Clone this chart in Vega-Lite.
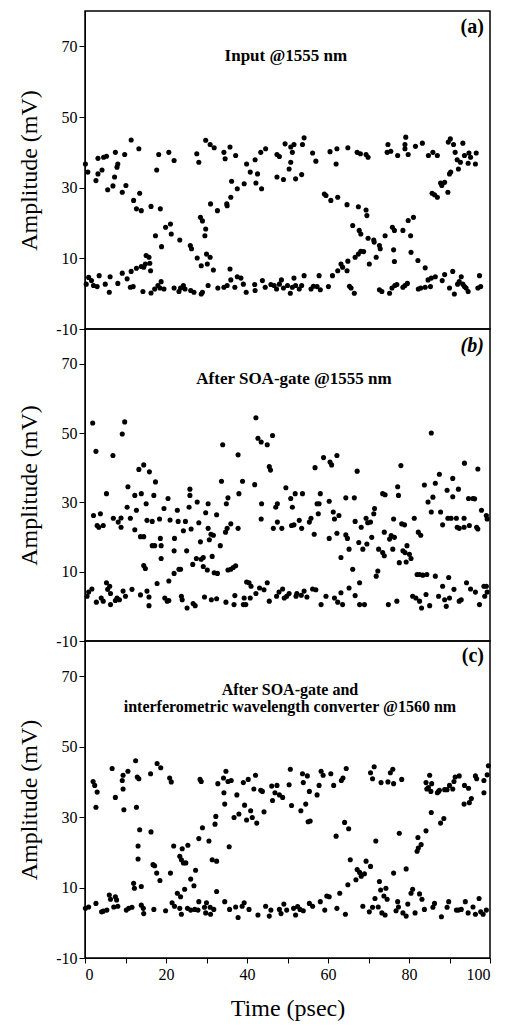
{
"$schema":"https://vega.github.io/schema/vega-lite/v6.json",
"padding":{"left":16,"top":10,"right":12,"bottom":5},
"spacing":0,
"bounds":"flush",
"config":{"view":{"stroke":"black","strokeWidth":1.5},"font":"Liberation Serif",
"axis":{"grid":false,"domainColor":"black","tickColor":"black","labelColor":"black","titleColor":"black","labelFont":"Liberation Serif","titleFont":"Liberation Serif","labelFontSize":16,"titleFontSize":24,"titleFontWeight":"normal"}},
"datasets":{
"a":[{"t":0.1,"v":36.7},{"t":0.7,"v":34.4},{"t":2.7,"v":32},{"t":3.2,"v":38.3},{"t":3.2,"v":33.9},{"t":4.2,"v":35},{"t":4.6,"v":38.6},{"t":5.6,"v":29.4},{"t":5.3,"v":38.9},{"t":6.9,"v":30.5},{"t":7.3,"v":33},{"t":7.5,"v":40},{"t":7.9,"v":35.8},{"t":8.1,"v":36.7},{"t":9.2,"v":28.7},{"t":9.8,"v":39.4},{"t":10.1,"v":30.6},{"t":11.4,"v":43.5},{"t":12,"v":26.4},{"t":12.7,"v":24},{"t":13.3,"v":41},{"t":13.5,"v":28.4},{"t":13.9,"v":23.5},{"t":16.3,"v":24.7},{"t":17.4,"v":16.4},{"t":17.7,"v":35},{"t":18.2,"v":39.4},{"t":18.6,"v":24},{"t":18.9,"v":13.3},{"t":19.9,"v":18.8},{"t":20.7,"v":40},{"t":21.1,"v":19.7},{"t":21.3,"v":16.9},{"t":22,"v":37.7},{"t":23.4,"v":15.2},{"t":26,"v":13.6},{"t":26.3,"v":12.7},{"t":27.6,"v":39.6},{"t":27.7,"v":10.1},{"t":28.1,"v":37.2},{"t":28.5,"v":21.6},{"t":28.7,"v":7.9},{"t":29,"v":20.6},{"t":29.6,"v":16.4},{"t":29.8,"v":18.3},{"t":30,"v":11.2},{"t":30.2,"v":8.4},{"t":30.9,"v":10.3},{"t":31,"v":25.4},{"t":31.7,"v":6.7},{"t":29.8,"v":43.4},{"t":30.9,"v":42.2},{"t":31.9,"v":41.3},{"t":32.7,"v":23.5},{"t":34.3,"v":40},{"t":34.6,"v":38.2},{"t":35,"v":25.4},{"t":35.1,"v":24.9},{"t":35.8,"v":41.5},{"t":36,"v":27.3},{"t":36.2,"v":31.8},{"t":37.2,"v":39.1},{"t":37.6,"v":29.7},{"t":39.3,"v":31.1},{"t":39.9,"v":36.7},{"t":40.8,"v":34.4},{"t":42,"v":37.9},{"t":42.2,"v":31.3},{"t":42.6,"v":33.9},{"t":43.6,"v":29.7},{"t":43.4,"v":40},{"t":44.6,"v":41},{"t":47.4,"v":39.4},{"t":48,"v":38.8},{"t":47.4,"v":33},{"t":49,"v":32.3},{"t":49.4,"v":42.4},{"t":50.4,"v":35.3},{"t":50.8,"v":37.2},{"t":51.2,"v":40},{"t":50.8,"v":41.5},{"t":51.6,"v":42.2},{"t":52,"v":32.5},{"t":53.5,"v":33.7},{"t":54.1,"v":44.1},{"t":53.7,"v":42.2},{"t":56.2,"v":39.8},{"t":57,"v":37.5},{"t":60.5,"v":40.2},{"t":62.2,"v":41},{"t":62,"v":36.7},{"t":59.1,"v":28.2},{"t":59.5,"v":27.8},{"t":60.7,"v":26.4},{"t":62.4,"v":27.3},{"t":64.9,"v":41.3},{"t":64.7,"v":25.2},{"t":67.2,"v":40},{"t":67.5,"v":24.6},{"t":68,"v":39.6},{"t":69.4,"v":39.4},{"t":69.9,"v":38.6},{"t":69.4,"v":23.7},{"t":69.6,"v":22.1},{"t":66.1,"v":19.3},{"t":67.7,"v":17.9},{"t":68.1,"v":16.9},{"t":69.9,"v":15.7},{"t":71.3,"v":15.2},{"t":71.4,"v":14.6},{"t":72.7,"v":13.6},{"t":72.9,"v":12.7},{"t":74.1,"v":16.4},{"t":75.9,"v":18.8},{"t":76.4,"v":17.9},{"t":76.2,"v":12.4},{"t":76.4,"v":9.1},{"t":78.5,"v":17.9},{"t":80.4,"v":16.4},{"t":79.8,"v":20.7},{"t":81.1,"v":21.6},{"t":80.5,"v":11.7},{"t":82.2,"v":9.4},{"t":84,"v":7.3},{"t":74.8,"v":42.2},{"t":74.6,"v":40},{"t":75.5,"v":40.3},{"t":77.2,"v":39.1},{"t":79,"v":41},{"t":79.2,"v":44.3},{"t":79,"v":42.2},{"t":79.8,"v":39.4},{"t":81.6,"v":41.7},{"t":83.3,"v":42.6},{"t":84.8,"v":39.1},{"t":85.9,"v":40},{"t":87,"v":39.1},{"t":85.7,"v":28.4},{"t":86.3,"v":28},{"t":87,"v":27.3},{"t":87.8,"v":31.3},{"t":88.1,"v":30.6},{"t":88.8,"v":31.5},{"t":89.6,"v":28.7},{"t":90,"v":33.9},{"t":90.3,"v":34.4},{"t":89.7,"v":42.9},{"t":90.2,"v":43.8},{"t":91,"v":42.2},{"t":91.4,"v":40},{"t":91.9,"v":37.9},{"t":92.2,"v":35.3},{"t":93.3,"v":42.6},{"t":92.7,"v":37.2},{"t":93.7,"v":39.1},{"t":94.6,"v":36.9},{"t":95.2,"v":38.6},{"t":96.4,"v":36.7},{"t":96.6,"v":39.8},{"t":94.8,"v":39.8},
{"t":0.3,"v":2.7},{"t":0.9,"v":4.6},{"t":1.6,"v":3.7},{"t":2.1,"v":2.3},{"t":3,"v":2},{"t":3.5,"v":5.1},{"t":5,"v":2.7},{"t":6,"v":0.4},{"t":6.2,"v":4.8},{"t":8.1,"v":2.9},{"t":9.2,"v":5.8},{"t":10.4,"v":4.2},{"t":11.2,"v":1.8},{"t":11.9,"v":2},{"t":11.4,"v":6.3},{"t":12.7,"v":7.2},{"t":13.9,"v":7.7},{"t":14.5,"v":7.5},{"t":14.9,"v":8.4},{"t":16,"v":8.6},{"t":16.2,"v":6.5},{"t":15.1,"v":10.8},{"t":15.8,"v":10.3},{"t":14.3,"v":0.6},{"t":16.3,"v":0.2},{"t":17.2,"v":1.3},{"t":18,"v":2.3},{"t":18.8,"v":3.4},{"t":19.5,"v":1.3},{"t":18.5,"v":1.6},{"t":22,"v":1.6},{"t":23.2,"v":0.6},{"t":23.6,"v":1.6},{"t":24.3,"v":2.3},{"t":24.7,"v":1.3},{"t":26.1,"v":0.9},{"t":26.9,"v":0.4},{"t":28.7,"v":-0.1},{"t":29,"v":0.4},{"t":30.4,"v":2.3},{"t":32.8,"v":1.6},{"t":34.3,"v":1.8},{"t":35.1,"v":2.3},{"t":35.8,"v":7},{"t":36,"v":3.9},{"t":37,"v":1.8},{"t":37.6,"v":4.8},{"t":38.5,"v":4.4},{"t":39.1,"v":2.7},{"t":39.8,"v":0.4},{"t":41.9,"v":2.6},{"t":42,"v":0.9},{"t":43.8,"v":3.7},{"t":44.5,"v":1.8},{"t":45.9,"v":2.6},{"t":46.7,"v":2.3},{"t":47.3,"v":1.3},{"t":48,"v":2.7},{"t":48.5,"v":3.9},{"t":49,"v":1.6},{"t":50,"v":2.3},{"t":50.7,"v":0.1},{"t":51.2,"v":1.8},{"t":51.6,"v":4.4},{"t":52,"v":2.3},{"t":52.9,"v":1.3},{"t":53.5,"v":2.3},{"t":54.1,"v":5.1},{"t":55.8,"v":1.3},{"t":56.4,"v":2.1},{"t":57.3,"v":2},{"t":57.8,"v":5.1},{"t":58.1,"v":1.1},{"t":60.1,"v":2},{"t":61.1,"v":5.1},{"t":62.4,"v":6.5},{"t":63.2,"v":8.4},{"t":63.6,"v":7.5},{"t":64.7,"v":6.5},{"t":64.9,"v":9.2},{"t":65.3,"v":2.1},{"t":65.7,"v":1.6},{"t":66.5,"v":0.1},{"t":66.7,"v":10.3},{"t":67.5,"v":11.2},{"t":68.1,"v":12},{"t":68.8,"v":11.9},{"t":70.2,"v":8.4},{"t":71.9,"v":10.3},{"t":72.7,"v":1.1},{"t":73.3,"v":0.6},{"t":75.2,"v":0.1},{"t":75.8,"v":1.6},{"t":76.5,"v":2.3},{"t":77,"v":2.6},{"t":78.5,"v":1.8},{"t":79,"v":2.3},{"t":79.6,"v":2.9},{"t":82.3,"v":1.3},{"t":82.9,"v":1.6},{"t":84,"v":1.8},{"t":84.7,"v":3.9},{"t":85.3,"v":2},{"t":85.5,"v":4.4},{"t":86.5,"v":4.8},{"t":88.2,"v":3.7},{"t":88.8,"v":5.4},{"t":90,"v":1.6},{"t":90.8,"v":6.3},{"t":91.2,"v":-0.1},{"t":92,"v":2.7},{"t":92.4,"v":3.4},{"t":92.9,"v":4.8},{"t":93.3,"v":2.7},{"t":93.7,"v":2},{"t":94.1,"v":1.6},{"t":94.6,"v":0.6},{"t":97,"v":1.6},{"t":97.4,"v":5.1},{"t":97.7,"v":2}],
"b":[{"t":1.9,"v":52.9},{"t":2.7,"v":44.7},{"t":0.5,"v":2.9},{"t":0.9,"v":4.1},{"t":1.7,"v":5},{"t":2.1,"v":26.2},{"t":2.8,"v":1.2},{"t":3,"v":23.3},{"t":3.4,"v":22.8},{"t":3.8,"v":26.7},{"t":4,"v":2.4},{"t":4.5,"v":23.3},{"t":4.5,"v":1.5},{"t":5.3,"v":32.5},{"t":5.3,"v":6.8},{"t":5.6,"v":4.9},{"t":6.1,"v":5.8},{"t":6.3,"v":3.7},{"t":6.3,"v":0.5},{"t":6.9,"v":43.5},{"t":7,"v":25.4},{"t":7.5,"v":1.7},{"t":7.9,"v":2.4},{"t":8.2,"v":24.3},{"t":8.5,"v":1.9},{"t":8.9,"v":25.5},{"t":8.9,"v":22.8},{"t":9.2,"v":49.7},{"t":9.4,"v":4.4},{"t":9.8,"v":53.2},{"t":10,"v":2.9},{"t":10.4,"v":28.6},{"t":10.6,"v":34.5},{"t":11.2,"v":25.4},{"t":11.6,"v":4.9},{"t":12.3,"v":32},{"t":12.7,"v":27.7},{"t":12.3,"v":22.1},{"t":13.3,"v":39.5},{"t":13.7,"v":20.1},{"t":13.9,"v":32.5},{"t":14.5,"v":40.8},{"t":14.5,"v":20.1},{"t":14.5,"v":11.8},{"t":14.9,"v":10.9},{"t":15.1,"v":29.6},{"t":15.3,"v":24.8},{"t":13.7,"v":3.3},{"t":15.3,"v":4.4},{"t":15.8,"v":2.7},{"t":15.8,"v":0.2},{"t":15.9,"v":38.8},{"t":16.6,"v":24.5},{"t":17,"v":32},{"t":16.6,"v":17.5},{"t":17.2,"v":17.5},{"t":17.4,"v":35.9},{"t":17.8,"v":6.6},{"t":18.4,"v":25.2},{"t":18.6,"v":19.6},{"t":18.8,"v":17.5},{"t":18.8,"v":13.8},{"t":19.5,"v":28.2},{"t":19.7,"v":2.4},{"t":20.3,"v":1.5},{"t":20.5,"v":31.1},{"t":20.7,"v":1.7},{"t":20.7,"v":7.3},{"t":21,"v":24.9},{"t":22,"v":9.5},{"t":22.1,"v":19.6},{"t":22,"v":16},{"t":22.8,"v":27.7},{"t":23,"v":24.5},{"t":23.2,"v":10.7},{"t":23.6,"v":10.7},{"t":23.8,"v":2.9},{"t":24,"v":1.9},{"t":24.3,"v":21.8},{"t":24.8,"v":24.5},{"t":25.1,"v":16},{"t":25.2,"v":-0.5},{"t":25.7,"v":28.6},{"t":25.9,"v":33.8},{"t":25.9,"v":32},{"t":26.2,"v":22.3},{"t":26.6,"v":12.1},{"t":26.7,"v":0.8},{"t":27.2,"v":0.2},{"t":27.5,"v":13.8},{"t":27.7,"v":30.1},{"t":28.1,"v":24.1},{"t":28.5,"v":18.6},{"t":28.7,"v":13.6},{"t":29.2,"v":14.1},{"t":29.2,"v":11.5},{"t":29.5,"v":2.7},{"t":29.8,"v":27},{"t":30.2,"v":10.5},{"t":30.4,"v":29.6},{"t":30.4,"v":22.5},{"t":30.7,"v":19.2},{"t":31.1,"v":20.8},{"t":31.2,"v":1.9},{"t":31.4,"v":14.4},{"t":31.7,"v":20.5},{"t":31.9,"v":9.7},{"t":32.5,"v":2.2},{"t":32.5,"v":26.4},{"t":32.7,"v":9.5},{"t":33.4,"v":17.5},{"t":33.7,"v":36.1},{"t":34,"v":46.6},{"t":34.7,"v":21.4},{"t":34.9,"v":29.6},{"t":34.8,"v":1.2},{"t":35.1,"v":22.5},{"t":35.3,"v":10.5},{"t":35.3,"v":31.3},{"t":36,"v":23.8},{"t":36,"v":10.7},{"t":36.6,"v":11.2},{"t":36.8,"v":0.5},{"t":37,"v":3.1},{"t":37.2,"v":11.7},{"t":37.8,"v":43.7},{"t":38,"v":32.5},{"t":37.8,"v":22.5},{"t":38.9,"v":36.1},{"t":39.1,"v":0.5},{"t":39.3,"v":2.4},{"t":39.7,"v":0.5},{"t":39.9,"v":7},{"t":40.5,"v":6.8},{"t":40.8,"v":2.4},{"t":41,"v":5.8},{"t":41.9,"v":35.1},{"t":42.2,"v":54.4},{"t":42.2,"v":3.7},{"t":42.7,"v":48.5},{"t":43.1,"v":5.3},{"t":43.5,"v":47.4},{"t":43.6,"v":29.6},{"t":43.5,"v":25.2},{"t":44.2,"v":4.8},{"t":45,"v":46.6},{"t":45,"v":6.8},{"t":45.5,"v":1.5},{"t":45.5,"v":40.3},{"t":45.8,"v":39.3},{"t":46.3,"v":49.3},{"t":46.5,"v":22.5},{"t":47.1,"v":28.6},{"t":47.3,"v":2.9},{"t":47.5,"v":29.6},{"t":47.5,"v":24.3},{"t":47.9,"v":4.1},{"t":48.6,"v":22.5},{"t":48.8,"v":5},{"t":49.2,"v":2.4},{"t":49.6,"v":34.2},{"t":49.8,"v":2.9},{"t":50.4,"v":3.7},{"t":50.8,"v":31.1},{"t":51,"v":23.3},{"t":51.2,"v":28.6},{"t":51.6,"v":23.5},{"t":51.9,"v":32.5},{"t":52.1,"v":2.9},{"t":52.3,"v":3.7},{"t":52.9,"v":24.8},{"t":53.5,"v":22.5},{"t":53.7,"v":32.5},{"t":53.4,"v":3.2},{"t":54.1,"v":4.4},{"t":54.8,"v":2.7},{"t":55.4,"v":24.3},{"t":55.8,"v":25.4},{"t":56.2,"v":5},{"t":56.6,"v":20.8},{"t":56.8,"v":40},{"t":57,"v":4.8},{"t":57.3,"v":29.6},{"t":57.6,"v":26.7},{"t":57.8,"v":29.6},{"t":58.1,"v":32.5},{"t":58.3,"v":0.5},{"t":58.9,"v":42.9},{"t":59.5,"v":2.9},{"t":60.3,"v":30.3},{"t":60.3,"v":19.6},{"t":60.5,"v":41.6},{"t":60.9,"v":40.8},{"t":61.3,"v":27.2},{"t":61.6,"v":25.2},{"t":62.2,"v":43.5},{"t":62.2,"v":21.1},{"t":62.7,"v":26.2},{"t":61.6,"v":2.4},{"t":62.4,"v":1.2},{"t":63.2,"v":3.9},{"t":63.6,"v":0.5},{"t":63.2,"v":14.1},{"t":64.4,"v":31.3},{"t":64.4,"v":20.6},{"t":64.8,"v":19.6},{"t":65.2,"v":16.5},{"t":65.2,"v":5.3},{"t":66.1,"v":10.7},{"t":66.5,"v":31.3},{"t":66.7,"v":24.5},{"t":66.7,"v":3.1},{"t":67.2,"v":39},{"t":67.6,"v":18.4},{"t":67.8,"v":6.8},{"t":67.8,"v":0.5},{"t":68.2,"v":22.8},{"t":68.6,"v":16.5},{"t":69,"v":0.5},{"t":69.4,"v":25.4},{"t":69.6,"v":18},{"t":69.8,"v":24.1},{"t":70.5,"v":24.3},{"t":70.8,"v":19.9},{"t":71.3,"v":26.7},{"t":71.5,"v":28.2},{"t":71.9,"v":8.7},{"t":72.3,"v":10.2},{"t":72.5,"v":16.5},{"t":73.5,"v":32.5},{"t":73.5,"v":15.5},{"t":73.9,"v":14.6},{"t":74.1,"v":32.2},{"t":73.9,"v":21.4},{"t":74.9,"v":0.5},{"t":75.2,"v":19.4},{"t":75.6,"v":20.4},{"t":76,"v":16.5},{"t":76.2,"v":25.2},{"t":76.4,"v":19.9},{"t":77,"v":1.5},{"t":77.2,"v":34.5},{"t":77.4,"v":32},{"t":77.6,"v":12.6},{"t":78,"v":40.6},{"t":78.2,"v":23.8},{"t":78.5,"v":16},{"t":78.9,"v":23.5},{"t":79,"v":15.5},{"t":79.3,"v":12.8},{"t":79.5,"v":17.5},{"t":80.1,"v":15},{"t":80.5,"v":13.8},{"t":80.9,"v":2.9},{"t":81.3,"v":25.4},{"t":81.7,"v":2.4},{"t":82,"v":9.2},{"t":82.3,"v":21.4},{"t":82.6,"v":1.5},{"t":82.9,"v":20.5},{"t":82.6,"v":9.2},{"t":83.4,"v":9},{"t":83.1,"v":-0.5},{"t":83.8,"v":35},{"t":84.2,"v":3.4},{"t":84.4,"v":9.2},{"t":84.7,"v":30.1},{"t":85.1,"v":0.2},{"t":85.5,"v":50},{"t":85.5,"v":27.2},{"t":85.9,"v":31.5},{"t":86.5,"v":8.7},{"t":86.5,"v":35.5},{"t":87.3,"v":2.9},{"t":87.5,"v":38.1},{"t":87.8,"v":27.2},{"t":88.3,"v":23.5},{"t":88.3,"v":5.8},{"t":88.8,"v":1.9},{"t":89.2,"v":0},{"t":89.4,"v":33.5},{"t":89.6,"v":25.4},{"t":89.8,"v":8.3},{"t":90,"v":2.4},{"t":90.4,"v":25.4},{"t":90.8,"v":36.9},{"t":90.8,"v":31.6},{"t":91.1,"v":4.9},{"t":91.7,"v":25.4},{"t":91.9,"v":22.8},{"t":92.2,"v":33.8},{"t":92.4,"v":22.5},{"t":92.4,"v":1.5},{"t":92.9,"v":1.9},{"t":93.6,"v":25.4},{"t":93.6,"v":22.8},{"t":93.7,"v":41.3},{"t":94.2,"v":6.8},{"t":94.7,"v":31.1},{"t":94.9,"v":23.3},{"t":95.2,"v":5},{"t":95.8,"v":31.1},{"t":96.2,"v":31},{"t":96.4,"v":4.1},{"t":96.7,"v":22.8},{"t":97,"v":39.6},{"t":97,"v":22.3},{"t":97.4,"v":0.5},{"t":97.9,"v":27.7},{"t":98.5,"v":5.8},{"t":98.7,"v":2.9},{"t":99.1,"v":26.2},{"t":99.3,"v":25.2},{"t":99.1,"v":5.8},{"t":99.3,"v":4.1}],
"c":[{"t":0.1,"v":4.1},{"t":0.9,"v":4.5},{"t":2,"v":40.1},{"t":2.4,"v":39},{"t":3,"v":37.1},{"t":2.7,"v":32.8},{"t":2.7,"v":5.5},{"t":4.1,"v":3.1},{"t":4.5,"v":3.3},{"t":5.4,"v":3.6},{"t":6,"v":7.9},{"t":6.3,"v":6.7},{"t":6.7,"v":43.8},{"t":7.1,"v":4.5},{"t":7.5,"v":35.6},{"t":7.5,"v":7.4},{"t":7.8,"v":6.5},{"t":8.1,"v":4.7},{"t":9.2,"v":40.4},{"t":9.4,"v":41.9},{"t":9.4,"v":38},{"t":9.6,"v":32.1},{"t":10.2,"v":3.6},{"t":10.6,"v":43},{"t":10.8,"v":4.1},{"t":11.6,"v":4.4},{"t":12,"v":11.2},{"t":12.2,"v":9.8},{"t":12.5,"v":46},{"t":12.7,"v":32.8},{"t":12.9,"v":41.4},{"t":13.1,"v":21.8},{"t":13.3,"v":40.9},{"t":13.1,"v":18.1},{"t":13.5,"v":26.4},{"t":13.9,"v":10.3},{"t":13.9,"v":5},{"t":14.4,"v":4.1},{"t":14.5,"v":2.6},{"t":16.2,"v":42.3},{"t":16.3,"v":25.8},{"t":16.8,"v":16.5},{"t":17.2,"v":16.2},{"t":17.7,"v":14.1},{"t":17,"v":3.8},{"t":17.8,"v":45.2},{"t":18.5,"v":12},{"t":18.7,"v":44},{"t":19.9,"v":3.4},{"t":21.1,"v":14.1},{"t":20.9,"v":41.1},{"t":21.3,"v":40},{"t":21.5,"v":5.7},{"t":21.9,"v":21.8},{"t":22.1,"v":4.7},{"t":22.8,"v":8.4},{"t":23.4,"v":4.1},{"t":23.4,"v":18.9},{"t":23.6,"v":7.4},{"t":23.8,"v":2.4},{"t":23.8,"v":17.9},{"t":24,"v":21},{"t":24.3,"v":17},{"t":24.6,"v":9.5},{"t":24.9,"v":17},{"t":25.3,"v":4.1},{"t":25.4,"v":22},{"t":26.1,"v":3.6},{"t":26.1,"v":12.4},{"t":26.9,"v":10.5},{"t":27.1,"v":3.8},{"t":27.3,"v":14.9},{"t":27.9,"v":3.6},{"t":28.1,"v":23.9},{"t":28.1,"v":6},{"t":28.4,"v":40.7},{"t":28.7,"v":40.1},{"t":29,"v":27},{"t":29.5,"v":4.4},{"t":29.8,"v":2.8},{"t":30,"v":5.7},{"t":30.6,"v":23.2},{"t":30.9,"v":4.4},{"t":31,"v":2.4},{"t":31.4,"v":17.9},{"t":31.8,"v":3.8},{"t":32.1,"v":28},{"t":32.3,"v":30.2},{"t":32.5,"v":17.5},{"t":32.5,"v":8.9},{"t":32.8,"v":39.5},{"t":34.2,"v":41.1},{"t":34.3,"v":36.9},{"t":34.5,"v":33.7},{"t":34.5,"v":6},{"t":34.8,"v":43},{"t":35.3,"v":40.1},{"t":35.6,"v":21.6},{"t":35.7,"v":3.8},{"t":36.1,"v":40.4},{"t":36.8,"v":29.9},{"t":37.2,"v":4.5},{"t":37.5,"v":36.3},{"t":37.8,"v":1.5},{"t":38,"v":30.9},{"t":38.8,"v":4.7},{"t":39.1,"v":39.8},{"t":39.3,"v":5.7},{"t":39.4,"v":33.4},{"t":39.9,"v":29.2},{"t":40.3,"v":40.7},{"t":40.5,"v":3.8},{"t":40.9,"v":31.8},{"t":41.3,"v":29.9},{"t":41.7,"v":38},{"t":42.1,"v":41.9},{"t":42.4,"v":28.3},{"t":42.7,"v":2.2},{"t":43.4,"v":37.6},{"t":43.8,"v":37.3},{"t":44.2,"v":31.5},{"t":44.6,"v":4.7},{"t":45.5,"v":1.9},{"t":45.9,"v":3.6},{"t":46.1,"v":38.8},{"t":46.3,"v":34.7},{"t":46.9,"v":36.9},{"t":47.4,"v":39},{"t":48,"v":36.3},{"t":48.8,"v":35.6},{"t":48,"v":3.8},{"t":48.4,"v":2.6},{"t":49.1,"v":5.3},{"t":49.8,"v":3.6},{"t":50.4,"v":39.2},{"t":50.7,"v":43.6},{"t":51,"v":33.3},{"t":51.5,"v":4.1},{"t":52,"v":2.2},{"t":52.5,"v":4.6},{"t":53.1,"v":3.8},{"t":53.3,"v":31.8},{"t":53.7,"v":42.3},{"t":53.9,"v":39.8},{"t":53.9,"v":3.4},{"t":54.5,"v":33.7},{"t":54.9,"v":41.7},{"t":55.1,"v":28.7},{"t":55.4,"v":37.3},{"t":55.6,"v":28.9},{"t":55.4,"v":5.5},{"t":56.2,"v":4.7},{"t":57.3,"v":36.3},{"t":57.8,"v":39},{"t":58.3,"v":43},{"t":58.1,"v":6},{"t":58.8,"v":41.9},{"t":59.2,"v":3.6},{"t":59.7,"v":7.6},{"t":60.3,"v":7.4},{"t":60.7,"v":42.3},{"t":61.4,"v":39},{"t":62,"v":24.6},{"t":62.2,"v":4.1},{"t":62.9,"v":8.4},{"t":63.3,"v":40.4},{"t":63.7,"v":41.1},{"t":64.1,"v":28.5},{"t":64.3,"v":2.4},{"t":64.5,"v":43.8},{"t":65.1,"v":26.7},{"t":64.9,"v":10.8},{"t":65.5,"v":17.9},{"t":66.9,"v":12.2},{"t":67.2,"v":15.1},{"t":67.8,"v":14.3},{"t":68.2,"v":13.2},{"t":68.6,"v":4.7},{"t":69,"v":13.9},{"t":69.4,"v":17.5},{"t":70.2,"v":3.1},{"t":70.5,"v":16},{"t":71,"v":4.4},{"t":70.5,"v":42.6},{"t":71,"v":40.9},{"t":71.4,"v":44.3},{"t":71.6,"v":6.9},{"t":71.8,"v":23.2},{"t":72.4,"v":4.5},{"t":72.7,"v":11.7},{"t":73,"v":9.3},{"t":73.1,"v":39.8},{"t":73.3,"v":2.8},{"t":73.8,"v":7.6},{"t":74.1,"v":2.2},{"t":74.3,"v":9.8},{"t":74.6,"v":6.7},{"t":74.8,"v":40},{"t":75.4,"v":42.6},{"t":76,"v":43.6},{"t":76.2,"v":39.5},{"t":76.2,"v":14.1},{"t":76.8,"v":3.4},{"t":77.2,"v":6},{"t":77.4,"v":4.5},{"t":77.6,"v":25.4},{"t":78.2,"v":40.7},{"t":78.5,"v":2.8},{"t":79.3,"v":15.3},{"t":79.3,"v":1.9},{"t":79.7,"v":5.3},{"t":80.5,"v":8.4},{"t":80.9,"v":9.5},{"t":81.5,"v":2.8},{"t":82,"v":20.3},{"t":82.2,"v":24.2},{"t":82.3,"v":21.2},{"t":82.6,"v":8.2},{"t":83,"v":22.2},{"t":83.2,"v":6.7},{"t":83.8,"v":3.8},{"t":84.2,"v":26.1},{"t":84.2,"v":39.8},{"t":84.4,"v":38},{"t":84.8,"v":38.4},{"t":85.1,"v":41.9},{"t":85.4,"v":37.3},{"t":85.5,"v":31.3},{"t":85.6,"v":39.5},{"t":85.9,"v":4.4},{"t":86.3,"v":5.5},{"t":87,"v":36.9},{"t":87.3,"v":37.3},{"t":87.5,"v":37.6},{"t":87.8,"v":28.3},{"t":88,"v":1.7},{"t":88.6,"v":29.6},{"t":88.8,"v":37.8},{"t":89.4,"v":37.8},{"t":89.4,"v":4.4},{"t":89.8,"v":6},{"t":90,"v":39},{"t":90.8,"v":38},{"t":91.1,"v":40.1},{"t":91.4,"v":41.4},{"t":91.7,"v":3.6},{"t":92.2,"v":3.6},{"t":92.4,"v":41.7},{"t":92.9,"v":3.8},{"t":93.6,"v":33.7},{"t":93.7,"v":39},{"t":93.9,"v":6},{"t":94.6,"v":2.8},{"t":94.7,"v":38.2},{"t":94.9,"v":34.1},{"t":95.4,"v":35.3},{"t":95.8,"v":4.5},{"t":96.4,"v":41.7},{"t":96.4,"v":2.4},{"t":96.7,"v":40.9},{"t":97.3,"v":6.9},{"t":97.7,"v":3.1},{"t":98.3,"v":2.4},{"t":98.5,"v":40.4},{"t":98.5,"v":36.9},{"t":99.1,"v":3.6},{"t":99.3,"v":42},{"t":99.6,"v":44.6}]
},
"vconcat":[
{"width":405,"height":318,"layer":[
 {"data":{"name":"a"},"mark":{"type":"circle","size":26,"color":"black","opacity":1},
  "encoding":{"x":{"field":"t","type":"quantitative","scale":{"domain":[0,100],"nice":false},"axis":null},
   "y":{"field":"v","type":"quantitative","scale":{"domain":[-10,80],"nice":false,"zero":false},"axis":{"title":"Amplitude (mV)","values":[-10,0,10,20,30,40,50,60,70],"labelExpr":"datum.value == -10 ? '-10' : (datum.value % 20 == 10 ? '' + datum.value : '')","tickSize":6,"labelPadding":2,"titlePadding":14}}}},
 {"data":{"values":[{}]},"mark":{"type":"text","text":"(a)","font":"Liberation Serif","fontSize":20,"fontWeight":"bold","align":"right","baseline":"middle","color":"black"},
  "encoding":{"x":{"datum":98.5,"type":"quantitative"},"y":{"datum":75.5,"type":"quantitative"}}},
 {"data":{"values":[{}]},"mark":{"type":"text","text":"Input @1555 nm","font":"Liberation Serif","fontSize":17,"fontWeight":"bold","align":"center","baseline":"middle","color":"black"},
  "encoding":{"x":{"datum":49.6,"type":"quantitative"},"y":{"datum":67.2,"type":"quantitative"}}}
]},
{"width":405,"height":312,"layer":[
 {"data":{"name":"b"},"mark":{"type":"circle","size":26,"color":"black","opacity":1},
  "encoding":{"x":{"field":"t","type":"quantitative","scale":{"domain":[0,100],"nice":false},"axis":null},
   "y":{"field":"v","type":"quantitative","scale":{"domain":[-10,80],"nice":false,"zero":false},"axis":{"title":"Amplitude (mV)","values":[-10,0,10,20,30,40,50,60,70],"labelExpr":"datum.value == -10 ? '-10' : (datum.value % 20 == 10 ? '' + datum.value : '')","tickSize":6,"labelPadding":2,"titlePadding":14}}}},
 {"data":{"values":[{}]},"mark":{"type":"text","text":"(b)","font":"Liberation Serif","fontSize":20,"fontWeight":"bold","fontStyle":"italic","align":"right","baseline":"middle","color":"black"},
  "encoding":{"x":{"datum":98.5,"type":"quantitative"},"y":{"datum":75,"type":"quantitative"}}},
 {"data":{"values":[{}]},"mark":{"type":"text","text":"After SOA-gate @1555 nm","font":"Liberation Serif","fontSize":17,"fontWeight":"bold","align":"center","baseline":"middle","color":"black"},
  "encoding":{"x":{"datum":51.6,"type":"quantitative"},"y":{"datum":65.7,"type":"quantitative"}}}
]},
{"width":405,"height":317,"layer":[
 {"data":{"name":"c"},"mark":{"type":"circle","size":26,"color":"black","opacity":1},
  "encoding":{"x":{"field":"t","type":"quantitative","scale":{"domain":[0,100],"nice":false},"axis":{"title":"Time (psec)","values":[0,10,20,30,40,50,60,70,80,90,100],"labelExpr":"datum.value % 20 == 0 ? datum.label : ''","tickSize":5,"labelPadding":3,"titlePadding":14}},
   "y":{"field":"v","type":"quantitative","scale":{"domain":[-10,80],"nice":false,"zero":false},"axis":{"title":"Amplitude (mV)","values":[-10,0,10,20,30,40,50,60,70],"labelExpr":"datum.value == -10 ? '-10' : (datum.value % 20 == 10 ? '' + datum.value : '')","tickSize":6,"labelPadding":2,"titlePadding":14}}}},
 {"data":{"values":[{}]},"mark":{"type":"text","text":"(c)","font":"Liberation Serif","fontSize":20,"fontWeight":"bold","align":"right","baseline":"middle","color":"black"},
  "encoding":{"x":{"datum":98.5,"type":"quantitative"},"y":{"datum":75.8,"type":"quantitative"}}},
 {"data":{"values":[{}]},"mark":{"type":"text","text":["After SOA-gate and","interferometric wavelength converter @1560 nm"],"lineHeight":17,"font":"Liberation Serif","fontSize":16,"fontWeight":"bold","align":"center","baseline":"middle","color":"black"},
  "encoding":{"x":{"datum":50.6,"type":"quantitative"},"y":{"datum":66.2,"type":"quantitative"}}}
]}
]
}
